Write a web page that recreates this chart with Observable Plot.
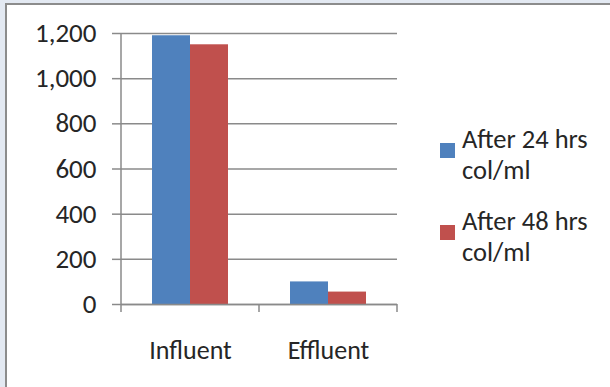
<!DOCTYPE html>
<html>
<head>
<meta charset="utf-8">
<script src="https://cdn.jsdelivr.net/npm/d3@7"></script>
<script src="https://cdn.jsdelivr.net/npm/@observablehq/plot@0.6"></script>
<style>
  body { margin: 0; background: #e3e9f2; }
  #wrap { position: relative; width: 610px; height: 387px; overflow: hidden; font-family: Carlito, Lato, "Open Sans", sans-serif; color: #262626; }
  #frame { position: absolute; left: 5px; top: 3px; width: 640px; height: 420px; background: #fff; border-left: 2px solid #8c8c8c; border-top: 2px solid #8c8c8c; }
  #chart { position: absolute; left: 0; top: 0; }
  #legend { position: absolute; left: 440px; top: 124px; }
  .item { position: relative; margin-bottom: 20px; }
  .swatch { position: absolute; left: 0; top: 19px; width: 15px; height: 15px; }
  .label { margin-left: 22px; width: 145px; font-size: 26.5px; line-height: 31px; }
</style>
</head>
<body>
<div id="wrap">
  <div id="frame"></div>
  <div id="chart"></div>
  <div id="legend"></div>
</div>
<script>
// Colony counts per sample site, after 24 and 48 hours of incubation
const categories = ["Influent", "Effluent"];
const seriesNames = ["After 24 hrs col/ml", "After 48 hrs col/ml"];
const after24 = [1190, 100];
const after48 = [1150, 55];
const yTicks = [0, 200, 400, 600, 800, 1000, 1200];
const colors = ["#4f81bd", "#c0504d"];

const rows = categories.flatMap((c, i) => [
  {category: c, series: seriesNames[0], value: after24[i]},
  {category: c, series: seriesNames[1], value: after48[i]}
]);

const axisGray = "#8a8a8a";
const chart = Plot.plot({
  width: 610,
  height: 387,
  marginLeft: 121,
  marginRight: 213,
  marginTop: 33,
  marginBottom: 83,
  style: {background: "transparent", fontFamily: "Carlito, Lato, 'Open Sans', sans-serif", fontSize: "26px", color: "#262626"},
  fx: {domain: categories, padding: 0, label: null},
  x: {domain: seriesNames, paddingInner: 0, paddingOuter: 0.77, axis: null},
  y: {domain: [0, 1200], label: null},
  color: {domain: seriesNames, range: colors},
  marks: [
    Plot.gridY(yTicks, {stroke: axisGray, strokeOpacity: 1, strokeWidth: 1.5}),
    Plot.barY(rows, {fx: "category", x: "series", y: "value", fill: "series"}),
    Plot.axisY(yTicks, {tickSize: 9, tickPadding: 16, tickFormat: d3.format(","), stroke: axisGray, strokeWidth: 1.5, fontSize: 27, label: null}),
    Plot.axisFx({anchor: "bottom", tickSize: 0, tickPadding: 36, fontSize: 26, label: null}),
    Plot.ruleY([0], {stroke: axisGray, strokeWidth: 1.5})
  ]
});
document.getElementById("chart").appendChild(chart);

// Value axis line and category boundary ticks, placed from the chart's own scales
const fx = chart.scale("fx");
const y = chart.scale("y");
const svg = d3.select(chart);
const y0 = y.apply(0);
const xLeft = fx.apply(categories[0]);
svg.append("line")
  .attr("x1", xLeft).attr("x2", xLeft)
  .attr("y1", y.apply(1200)).attr("y2", y0)
  .attr("stroke", axisGray).attr("stroke-width", 1.5);
const bounds = categories.map(c => fx.apply(c)).concat([fx.apply(categories[categories.length - 1]) + fx.bandwidth]);
svg.append("g").selectAll("line").data(bounds).join("line")
  .attr("x1", d => d).attr("x2", d => d)
  .attr("y1", y0).attr("y2", y0 + 8)
  .attr("stroke", axisGray).attr("stroke-width", 1.5);

// Legend
const legend = d3.select("#legend");
seriesNames.forEach((name, i) => {
  const item = legend.append("div").attr("class", "item");
  item.append("div").attr("class", "swatch").style("background", colors[i]);
  item.append("div").attr("class", "label").text(name);
});
</script>
</body>
</html>
